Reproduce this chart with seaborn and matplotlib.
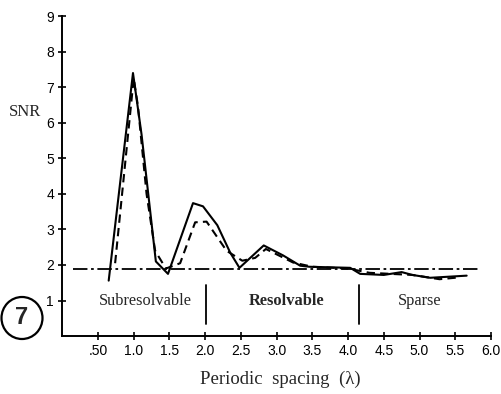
import matplotlib
matplotlib.use("Agg")
import matplotlib.pyplot as plt
from matplotlib.patches import Ellipse
import seaborn as sns
import pandas as pd

# SNR versus periodic spacing, two measurement series
spacing_solid = [0.65, 0.99, 1.11, 1.31, 1.48, 1.83, 1.97, 2.17, 2.35, 2.48, 2.82, 3.09, 3.33, 3.46,
                 4.03, 4.17, 4.5, 4.75, 4.9, 5.15, 5.66]
snr_solid = [1.56, 7.4, 5.67, 2.1, 1.75, 3.74, 3.65, 3.12, 2.35, 1.92, 2.55, 2.27, 1.98, 1.95,
             1.92, 1.75, 1.72, 1.8, 1.72, 1.64, 1.7]

spacing_dashed = [0.74, 1.0, 1.06, 1.18, 1.3, 1.45, 1.65, 1.86, 2.02, 2.3, 2.52, 2.7, 2.85, 3.23,
                  3.5, 4.0, 4.3, 4.9, 5.28, 5.55]
snr_dashed = [2.05, 7.25, 6.46, 4.0, 2.4, 1.9, 2.05, 3.2, 3.22, 2.4, 2.12, 2.2, 2.45, 2.07,
              1.95, 1.9, 1.78, 1.72, 1.6, 1.65]

# reference (threshold) level
spacing_ref = [0.15, 5.83]
snr_ref = [1.9, 1.9]

x_ticks = [0.5, 1.0, 1.5, 2.0, 2.5, 3.0, 3.5, 4.0, 4.5, 5.0, 5.5, 6.0]
x_tick_labels = [".50", "1.0", "1.5", "2.0", "2.5", "3.0", "3.5", "4.0", "4.5", "5.0", "5.5", "6.0"]
y_ticks = [1, 2, 3, 4, 5, 6, 7, 8, 9]

regions = ["Subresolvable", "Resolvable", "Sparse"]
region_centers = [1.17, 3.14, 5.0]
region_weights = ["normal", "bold", "normal"]
region_bounds = [2.01, 4.15]

sns.set_theme(style="ticks")
plt.rcParams["font.family"] = ["Liberation Sans", "DejaVu Sans"]

fig = plt.figure(figsize=(5.02, 3.94), dpi=100)
ax = fig.add_axes([0.124, 0.147, 0.854, 0.812])

df_s = pd.DataFrame({"x": spacing_solid, "y": snr_solid})
df_d = pd.DataFrame({"x": spacing_dashed, "y": snr_dashed})
df_r = pd.DataFrame({"x": spacing_ref, "y": snr_ref})

sns.lineplot(data=df_r, x="x", y="y", ax=ax, color="black", lw=1.3,
             linestyle=(0, (8, 2, 1.5, 2)), sort=False, estimator=None)
sns.lineplot(data=df_s, x="x", y="y", ax=ax, color="black", lw=1.5,
             sort=False, estimator=None)
sns.lineplot(data=df_d, x="x", y="y", ax=ax, color="black", lw=1.5,
             linestyle=(0, (4, 2.5)), sort=False, estimator=None)

ax.set_xlim(0, 6.0)
ax.set_ylim(0, 9)
ax.set_xticks(x_ticks)
ax.set_xticklabels(x_tick_labels)
ax.set_yticks(y_ticks)
ax.tick_params(axis="both", direction="inout", length=6, width=1.2, color="black",
               labelsize=10, labelcolor="black", pad=3)
sns.despine(ax=ax)
for side in ("left", "bottom"):
    ax.spines[side].set_color("black")
    ax.spines[side].set_linewidth(1.4)

ax.set_xlabel("")
ax.set_ylabel("")
fig.text(0.558, 0.036, "Periodic  spacing  (λ)", family="Liberation Serif", fontsize=13.5,
         ha="center", va="center")
ax.text(-0.52, 6.3, "SNR", family="Liberation Serif", fontsize=12, ha="center", va="center")

for name, cx, wt in zip(regions, region_centers, region_weights):
    ax.text(cx, 1.0, name, family="Liberation Serif", fontsize=11.8, fontweight=wt,
            ha="center", va="center")
for bx in region_bounds:
    ax.plot([bx, bx], [0.35, 1.45], color="black", lw=1.3)

# circled panel number
fig.patches.append(Ellipse((22 / 502, 1 - 318 / 394), 41 / 502, 42 / 394,
                           transform=fig.transFigure, fc="white", ec="black", lw=1.6))
fig.text(22 / 502, 1 - 318 / 394, "7", fontsize=17, fontweight="bold",
         ha="center", va="center")

fig.savefig("out.png", dpi=100, facecolor="white")
